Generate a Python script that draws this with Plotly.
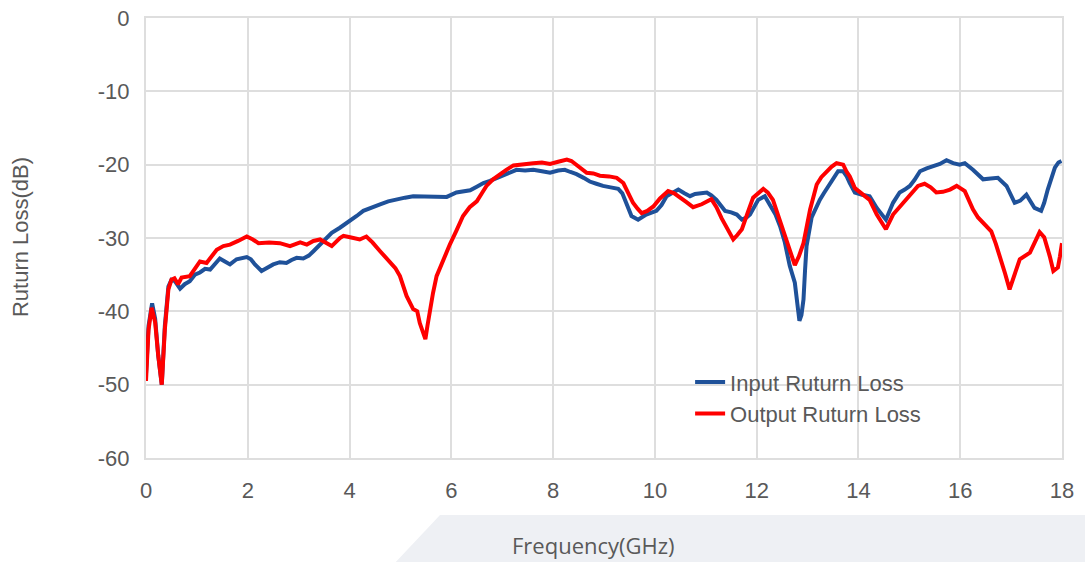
import plotly.graph_objects as go

# Input Ruturn Loss (blue)
in_freq = [0.00, 0.05, 0.12, 0.18, 0.24, 0.31, 0.37, 0.44, 0.50, 0.57, 0.67, 0.76, 0.86, 0.96, 1.06, 1.16,
           1.26, 1.36, 1.45, 1.55, 1.65, 1.78, 1.88, 1.98, 2.06, 2.14, 2.27, 2.38, 2.50, 2.63, 2.76, 2.86,
           2.96, 3.09, 3.20, 3.29, 3.42, 3.53, 3.65, 3.81, 4.01, 4.14, 4.27, 4.43, 4.60, 4.76, 4.93, 5.09,
           5.25, 5.42, 5.58, 5.75, 5.91, 6.10, 6.23, 6.37, 6.50, 6.63, 6.76, 6.89, 7.02, 7.15, 7.28, 7.45,
           7.61, 7.78, 7.94, 8.10, 8.23, 8.34, 8.46, 8.60, 8.72, 8.85, 8.98, 9.13, 9.28, 9.36, 9.44, 9.54,
           9.67, 9.83, 10.03, 10.13, 10.23, 10.35, 10.46, 10.58, 10.69, 10.79, 10.88, 11.02, 11.11, 11.21,
           11.30, 11.38, 11.50, 11.61, 11.71, 11.80, 11.87, 11.95, 12.03, 12.16, 12.29, 12.37, 12.46, 12.55,
           12.65, 12.75, 12.80, 12.84, 12.88, 12.92, 12.95, 12.98, 13.08, 13.16, 13.24, 13.32, 13.41, 13.50,
           13.60, 13.70, 13.77, 13.83, 13.93, 14.07, 14.22, 14.36, 14.45, 14.54, 14.68, 14.81, 14.91, 15.01,
           15.10, 15.21, 15.34, 15.47, 15.60, 15.73, 15.86, 15.99, 16.09, 16.25, 16.35, 16.45, 16.60, 16.74,
           16.91, 16.99, 17.07, 17.18, 17.30, 17.46, 17.59, 17.65, 17.72, 17.86, 17.93, 17.99]
in_loss = [-48.5, -42.0, -38.9, -41.0, -46.0, -50.0, -42.0, -36.6, -35.7, -35.9, -36.9, -36.3, -35.9, -35.0,
           -34.7, -34.2, -34.3, -33.5, -32.8, -33.2, -33.6, -32.9, -32.8, -32.6, -32.9, -33.6, -34.5, -34.0,
           -33.6, -33.3, -33.4, -33.0, -32.7, -32.8, -32.4, -31.8, -30.9, -30.0, -29.3, -28.6, -27.7, -27.0,
           -26.3, -25.8, -25.4, -25.0, -24.7, -24.5, -24.3, -24.3, -24.3, -24.4, -24.4, -23.8, -23.7, -23.5,
           -23.0, -22.5, -22.2, -21.8, -21.4, -21.1, -20.7, -20.8, -20.7, -20.9, -21.1, -20.8, -20.7, -21.0,
           -21.3, -21.8, -22.3, -22.6, -22.9, -23.1, -23.3, -23.9, -25.2, -27.0, -27.5, -26.8, -26.3, -25.5,
           -24.3, -23.8, -23.4, -23.9, -24.3, -24.0, -23.9, -23.8, -24.2, -24.8, -25.6, -26.3, -26.5, -26.8,
           -27.5, -27.2, -26.8, -25.8, -24.8, -24.3, -25.7, -26.8, -28.4, -30.5, -33.8, -36.1, -39.0, -41.3,
           -40.5, -38.4, -34.5, -31.1, -27.2, -25.9, -24.8, -23.9, -22.9, -21.8, -20.9, -20.9, -21.6, -22.5,
           -23.8, -24.1, -24.3, -25.9, -26.8, -27.5, -25.2, -23.8, -23.4, -22.9, -22.1, -20.9, -20.5, -20.2,
           -19.9, -19.4, -19.8, -20.0, -19.8, -20.7, -21.3, -22.0, -21.9, -21.8, -22.9, -24.0, -25.2, -24.9,
           -24.1, -25.9, -26.3, -25.2, -23.4, -20.4, -19.7, -19.5]

# Output Ruturn Loss (red)
out_freq = [0.00, 0.05, 0.11, 0.18, 0.24, 0.31, 0.37, 0.44, 0.50, 0.56, 0.63, 0.70, 0.86, 0.96, 1.06, 1.19,
            1.29, 1.39, 1.52, 1.65, 1.81, 1.98, 2.10, 2.21, 2.42, 2.63, 2.83, 3.03, 3.16, 3.29, 3.42, 3.55,
            3.65, 3.81, 3.88, 4.01, 4.20, 4.33, 4.45, 4.60, 4.79, 4.90, 4.99, 5.12, 5.25, 5.33, 5.38, 5.44,
            5.49, 5.53, 5.58, 5.64, 5.71, 5.84, 5.97, 6.10, 6.23, 6.36, 6.50, 6.60, 6.69, 6.82, 6.95, 7.08,
            7.22, 7.40, 7.61, 7.78, 7.94, 8.10, 8.27, 8.36, 8.46, 8.56, 8.66, 8.79, 8.92, 9.10, 9.25, 9.38,
            9.48, 9.57, 9.66, 9.74, 9.85, 9.97, 10.10, 10.26, 10.38, 10.49, 10.62, 10.75, 10.92, 11.11, 11.21,
            11.31, 11.42, 11.54, 11.62, 11.71, 11.82, 11.93, 12.13, 12.22, 12.32, 12.44, 12.55, 12.65, 12.75,
            12.83, 12.92, 13.05, 13.18, 13.27, 13.37, 13.47, 13.57, 13.70, 13.77, 13.83, 13.93, 14.07, 14.22,
            14.36, 14.45, 14.54, 14.68, 14.81, 14.94, 15.05, 15.17, 15.30, 15.42, 15.53, 15.66, 15.80, 15.93,
            16.09, 16.17, 16.25, 16.35, 16.45, 16.61, 16.70, 16.78, 16.88, 16.97, 17.07, 17.17, 17.37, 17.47,
            17.56, 17.65, 17.69, 17.76, 17.83, 17.92, 17.96, 18.00]
out_loss = [-49.5, -42.5, -39.5, -41.5, -46.0, -50.0, -42.5, -37.0, -35.7, -35.5, -36.3, -35.4, -35.2, -34.2,
            -33.2, -33.4, -32.4, -31.6, -31.1, -30.9, -30.4, -29.8, -30.2, -30.7, -30.6, -30.7, -31.1, -30.6,
            -30.9, -30.4, -30.2, -30.7, -31.1, -30.0, -29.7, -29.9, -30.2, -29.8, -30.6, -31.8, -33.2, -34.1,
            -35.2, -37.9, -39.7, -40.0, -41.6, -42.8, -43.8, -42.0, -39.7, -37.5, -35.2, -33.0, -30.9, -29.0,
            -27.0, -25.8, -25.0, -23.9, -22.9, -22.0, -21.3, -20.7, -20.1, -19.9, -19.8, -19.7, -19.9, -19.6,
            -19.3, -19.5, -20.0, -20.6, -21.1, -21.2, -21.5, -21.6, -21.8, -22.5, -23.8, -25.2, -26.0, -26.6,
            -26.3, -25.7, -24.6, -23.6, -23.9, -24.4, -25.1, -25.8, -25.4, -24.7, -25.8, -27.3, -28.8, -30.2,
            -29.6, -28.8, -26.6, -24.5, -23.3, -23.8, -24.8, -27.3, -29.8, -32.0, -33.7, -32.5, -30.7, -26.1,
            -22.7, -21.7, -20.9, -20.3, -19.8, -20.0, -21.0, -21.6, -23.2, -24.0, -24.8, -26.8, -27.9, -28.8,
            -26.8, -25.8, -24.8, -23.8, -22.9, -22.6, -23.1, -23.8, -23.7, -23.4, -22.9, -23.6, -24.8, -26.1,
            -27.2, -27.9, -29.1, -30.8, -32.5, -34.8, -37.0, -35.0, -32.9, -32.0, -30.5, -29.2, -29.9, -30.7,
            -32.5, -34.5, -34.0, -32.5, -30.7]

x_ticks = [0, 2, 4, 6, 8, 10, 12, 14, 16, 18]
y_ticks = [0, -10, -20, -30, -40, -50, -60]

TEXT = "#595959"
GRID = "#DEDEDE"
AXFONT = dict(family="Liberation Sans, Arial, sans-serif", size=22, color=TEXT)

fig = go.Figure()
fig.add_trace(go.Scatter(x=in_freq, y=in_loss, mode="lines", name="Input Ruturn Loss",
                         line=dict(color="#1F5199", width=4)))
fig.add_trace(go.Scatter(x=out_freq, y=out_loss, mode="lines", name="Output Ruturn Loss",
                         line=dict(color="#FF0000", width=4)))

fig.update_layout(
    width=1085, height=562,
    margin=dict(l=146, r=23, t=18, b=104, autoexpand=False),
    paper_bgcolor="white", plot_bgcolor="white",
    showlegend=True,
    legend=dict(x=0.594, y=0.22, xanchor="left", yanchor="top",
                bgcolor="rgba(0,0,0,0)", font=AXFONT, borderwidth=0,
                tracegroupgap=0),
    xaxis=dict(range=[0, 18], tickvals=x_ticks, ticktext=[str(v) for v in x_ticks],
               showgrid=True, gridcolor=GRID, gridwidth=2, zeroline=False,
               showline=True, mirror=True, linecolor=GRID, linewidth=2, automargin=False,
               ticks="", tickfont=AXFONT, ticklabelstandoff=12, ticklabeloverflow="allow"),
    yaxis=dict(range=[-60, 0], tickvals=y_ticks, ticktext=[str(v) for v in y_ticks],
               showgrid=True, gridcolor=GRID, gridwidth=2, zeroline=False,
               showline=True, mirror=True, linecolor=GRID, linewidth=2, automargin=False,
               ticks="", tickfont=AXFONT, ticklabelstandoff=10, ticklabeloverflow="allow"),
)

# light grey parallelogram behind the x-axis title
fig.add_shape(type="path", xref="paper", yref="paper",
              path="M 0.321 -0.1295 L 1.05 -0.1295 L 1.05 -0.26 L 0.262 -0.26 Z",
              fillcolor="#EEF0F4", line=dict(width=0), layer="below")

fig.add_annotation(text="Frequency(GHz)", xref="paper", yref="paper", x=0.489, y=-0.198,
                   showarrow=False, xanchor="center", yanchor="middle",
                   font=dict(family="Open Sans, Noto Sans, sans-serif", size=22, color=TEXT))
fig.add_annotation(text="Ruturn Loss(dB)", xref="paper", yref="paper", x=-0.1376, y=0.502,
                   showarrow=False, xanchor="center", yanchor="middle", textangle=-90,
                   font=dict(family="Liberation Sans, Arial, sans-serif", size=22, color=TEXT))

# remove the default 8px page margin so the figure sits at the window's corner
fig.write_html("out.html", config={"displayModeBar": False},
               post_script="document.body.style.margin='0';")
